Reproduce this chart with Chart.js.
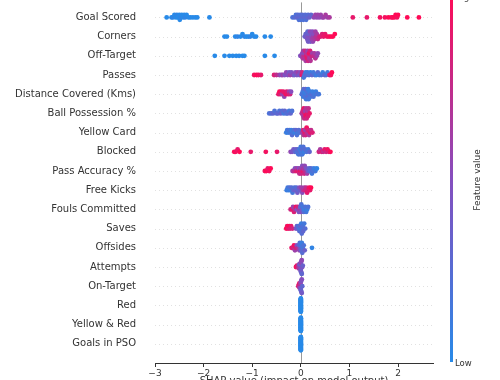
<!DOCTYPE html>
<html><head><meta charset="utf-8">
<script src="https://cdn.jsdelivr.net/npm/chart.js@4"></script>
<style>html,body{margin:0;padding:0;background:#fff;overflow:hidden}</style>
</head><body>
<canvas id="c" width="500" height="380"></canvas>
<script>
// Feature names, top to bottom
const featureNames = ["Goal Scored","Corners","Off-Target","Passes","Distance Covered (Kms)","Ball Possession %","Yellow Card","Blocked","Pass Accuracy %","Free Kicks","Fouls Committed","Saves","Offsides","Attempts","On-Target","Red","Yellow & Red","Goals in PSO"];
// x-axis ticks
const xTicks = [-3,-2,-1,0,1,2];
// [SHAP value, normalised feature value (0 = low, 1 = high)]
const goalScored = [[-2.76,0],[-2.66,0],[-2.63,0.05],[-2.6,0],[-2.57,0],[-2.55,0.05],[-2.53,0],[-2.5,0],[-2.49,0],[-2.47,0.05],[-2.45,0],[-2.42,0],[-2.4,0],[-2.38,0.05],[-2.35,0],[-2.31,0],[-2.27,0],[-2.22,0],[-2.17,0],[-2.13,0],[-1.88,0],
[-0.17,0.2],[-0.13,0.25],[-0.1,0.2],[-0.08,0.3],[-0.06,0.25],[-0.04,0.2],[-0.03,0.3],[-0.01,0.25],[0,0.2],[0.02,0.3],[0.03,0.25],[0.05,0.2],[0.07,0.3],[0.09,0.25],[0.11,0.2],[0.13,0.3],[0.15,0.25],[0.18,0.35],[0.21,0.3],
[0.27,0.55],[0.3,0.6],[0.33,0.55],[0.35,0.6],[0.38,0.55],[0.41,0.6],[0.44,0.55],[0.47,0.6],[0.51,0.65],[0.55,0.6],[0.59,0.65],
[1.07,0.9],[1.36,0.9],[1.63,0.95],[1.73,0.95],[1.8,1],[1.86,1],[1.89,0.95],[1.92,1],[1.95,1],[1.98,0.95],[2.0,1],[2.19,1],[2.43,1]];
const corners = [[-1.57,0],[-1.52,0],[-1.35,0],[-1.3,0.05],[-1.24,0],[-1.2,0],[-1.16,0.05],[-1.12,0],[-1.08,0],[-1.04,0.05],[-1.0,0],[-0.96,0],[-0.92,0],[-0.74,0],[-0.62,0],
[0.08,0.35],[0.1,0.3],[0.11,0.4],[0.12,0.35],[0.13,0.45],[0.14,0.3],[0.15,0.4],[0.16,0.5],[0.17,0.35],[0.18,0.45],[0.19,0.55],[0.2,0.4],[0.21,0.5],[0.22,0.45],[0.23,0.6],[0.24,0.5],[0.25,0.55],[0.26,0.6],[0.27,0.5],[0.28,0.65],[0.3,0.6],[0.31,0.7],[0.33,0.65],[0.35,0.75],[0.38,0.8],[0.41,0.85],[0.44,0.85],[0.47,0.9],[0.5,0.9],[0.54,0.95],[0.58,0.95],[0.62,1],[0.66,1],[0.7,1]];
const offTarget = [[-1.77,0],[-1.57,0],[-1.47,0],[-1.4,0],[-1.33,0],[-1.27,0],[-1.2,0],[-1.16,0],[-0.74,0],[-0.54,0],
[-0.01,0.45],[0.01,0.55],[0.03,0.5],[0.04,0.65],[0.05,0.6],[0.06,0.75],[0.07,0.55],[0.08,0.7],[0.09,0.8],[0.1,0.65],[0.11,0.85],[0.12,0.7],[0.13,0.9],[0.14,0.6],[0.15,0.8],[0.16,0.75],[0.17,0.95],[0.18,0.65],[0.19,0.85],[0.2,0.7],[0.22,0.8],[0.24,0.6],[0.26,0.75],[0.28,0.65],[0.3,0.7],[0.33,0.6],[0.35,0.55]];
const passes = [[-0.96,0.95],[-0.91,1],[-0.87,0.95],[-0.82,0.9],[-0.55,0.85],[-0.5,0.75],
[-0.44,0.6],[-0.4,0.5],[-0.37,0.6],[-0.33,0.45],[-0.3,0.55],[-0.27,0.5],[-0.24,0.4],[-0.22,0.6],[-0.19,0.45],[-0.16,0.55],[-0.13,0.35],[-0.11,0.5],[-0.08,0.45],[-0.06,0.6],[-0.03,0.4],[-0.01,0.5],
[0.02,0.9],[0.03,0.8],[0.06,0.15],[0.08,0.2],[0.1,0.1],[0.12,0.25],[0.14,0.15],[0.17,0.2],[0.2,0.1],[0.23,0.3],[0.26,0.15],[0.29,0.2],[0.32,0.1],[0.35,0.25],[0.38,0.15],[0.42,0.2],[0.45,0.1],[0.49,0.3],[0.52,0.2],[0.55,0.15],[0.59,0.85],[0.62,0.95],[0.64,1]];
const distanceCovered = [[-0.46,0.9],[-0.44,1],[-0.42,0.85],[-0.4,0.95],[-0.38,0.6],[-0.36,0.9],[-0.34,0.55],[-0.31,0.95],[-0.29,0.85],[-0.26,0.9],[-0.24,0.6],[-0.22,0.8],[-0.2,0.5],
[0.02,0.2],[0.04,0.15],[0.05,0.1],[0.06,0.25],[0.07,0.15],[0.08,0.1],[0.09,0.2],[0.1,0.3],[0.11,0.15],[0.12,0.1],[0.13,0.2],[0.14,0.25],[0.15,0.1],[0.16,0.15],[0.17,0.2],[0.18,0.1],[0.2,0.15],[0.22,0.25],[0.24,0.1],[0.26,0.2],[0.28,0.15],[0.31,0.1],[0.34,0.2],[0.37,0.15]];
const ballPossession = [[-0.65,0.2],[-0.61,0.25],[-0.57,0.3],[-0.54,0.2],[-0.5,0.25],[-0.47,0.3],[-0.44,0.2],[-0.41,0.35],[-0.38,0.25],[-0.35,0.15],[-0.33,0.3],[-0.3,0.2],[-0.27,0.25],[-0.24,0.15],[-0.21,0.3],[-0.18,0.2],
[0.02,0.6],[0.03,0.7],[0.04,0.8],[0.05,0.65],[0.06,0.9],[0.07,0.75],[0.08,0.85],[0.09,0.6],[0.1,0.95],[0.11,0.7],[0.12,0.8],[0.13,0.9],[0.14,0.65],[0.15,0.85],[0.16,0.75],[0.18,0.9]];
const yellowCard = [[-0.3,0.1],[-0.28,0.15],[-0.26,0.1],[-0.24,0.2],[-0.22,0.15],[-0.2,0.1],[-0.18,0.25],[-0.16,0.15],[-0.14,0.2],[-0.12,0.1],[-0.1,0.3],[-0.08,0.2],[-0.06,0.15],[-0.04,0.25],[-0.02,0.2],
[0.03,0.6],[0.05,0.85],[0.06,0.7],[0.08,0.9],[0.09,0.6],[0.1,0.8],[0.12,0.95],[0.13,0.7],[0.15,0.85],[0.17,0.65],[0.19,0.9],[0.21,0.75],[0.24,0.85]];
const blocked = [[-1.37,1],[-1.34,0.95],[-1.3,0.9],[-1.26,1],[-1.03,0.9],[-0.72,0.95],[-0.49,0.9],
[-0.21,0.55],[-0.18,0.45],[-0.15,0.4],[-0.12,0.3],[-0.1,0.35],[-0.08,0.2],[-0.06,0.3],[-0.05,0.15],[-0.03,0.25],[-0.02,0.1],[-0.01,0.2],[0,0.15],[0.01,0.1],[0.02,0.25],[0.03,0.15],[0.05,0.2],[0.07,0.1],[0.09,0.25],[0.12,0.2],[0.15,0.15],[0.18,0.3],
[0.37,0.8],[0.4,0.65],[0.43,0.85],[0.46,0.75],[0.49,0.9],[0.52,0.8],[0.55,0.95],[0.58,0.85],[0.61,1]];
const passAccuracy = [[-0.74,0.95],[-0.71,1],[-0.68,0.9],[-0.65,0.95],[-0.62,1],
[-0.17,0.6],[-0.14,0.75],[-0.12,0.5],[-0.1,0.85],[-0.08,0.6],[-0.06,0.9],[-0.04,0.5],[-0.03,0.75],[-0.01,0.95],[0,0.6],[0.01,0.8],[0.03,0.5],[0.04,0.9],[0.05,0.65],[0.07,0.8],[0.08,0.55],[0.1,0.7],[0.11,0.45],[0.13,0.6],[0.15,0.35],[0.17,0.3],[0.19,0.2],[0.21,0.25],[0.23,0.15],[0.25,0.2],[0.27,0.1],[0.3,0.15],[0.33,0.05]];
const freeKicks = [[-0.29,0.1],[-0.27,0.15],[-0.25,0.1],[-0.23,0.2],[-0.21,0.1],[-0.19,0.25],[-0.17,0.15],[-0.15,0.3],[-0.13,0.2],[-0.11,0.35],[-0.09,0.25],[-0.07,0.4],[-0.05,0.3],[-0.03,0.5],[-0.01,0.4],[0.01,0.6],[0.03,0.5],[0.05,0.7],[0.07,0.6],[0.09,0.8],[0.11,0.75],[0.13,0.9],[0.15,0.85],[0.17,0.95],[0.19,0.9],[0.21,1]];
const foulsCommitted = [[-0.21,0.8],[-0.18,0.9],[-0.16,0.6],[-0.14,0.85],[-0.12,0.7],[-0.1,0.95],[-0.08,0.5],[-0.06,0.8],[-0.04,0.4],[-0.03,0.6],[-0.01,0.3],[0,0.5],[0.01,0.2],[0.03,0.35],[0.04,0.15],[0.06,0.25],[0.07,0.1],[0.09,0.2],[0.11,0.15],[0.13,0.1],[0.15,0.2]];
const saves = [[-0.3,1],[-0.28,0.95],[-0.26,0.9],[-0.24,1],[-0.22,0.85],[-0.2,0.9],[-0.17,0.8],
[-0.1,0.45],[-0.08,0.35],[-0.06,0.3],[-0.05,0.2],[-0.03,0.25],[-0.02,0.15],[-0.01,0.3],[0,0.2],[0.01,0.1],[0.02,0.25],[0.03,0.15],[0.04,0.2],[0.05,0.3],[0.07,0.15],[0.09,0.25]];
const offsides = [[-0.19,0.9],[-0.16,0.8],[-0.14,0.95],[-0.12,0.6],[-0.1,0.85],[-0.08,0.5],[-0.06,0.7],[-0.04,0.3],[-0.03,0.55],[-0.02,0.2],[-0.01,0.4],[0,0.15],[0.01,0.3],[0.02,0.1],[0.03,0.25],[0.04,0.15],[0.06,0.2],[0.08,0.35],[0.23,0.05]];
const attempts = [[-0.1,0.95],[-0.08,0.9],[-0.06,0.85],[-0.05,0.7],[-0.04,0.6],[-0.03,0.5],[-0.02,0.65],[-0.02,0.4],[-0.01,0.55],[-0.01,0.3],[0,0.45],[0,0.6],[0,0.35],[0.01,0.5],[0.01,0.4],[0.02,0.55],[0.02,0.3],[0.03,0.45],[0.04,0.35]];
const onTarget = [[-0.05,0.9],[-0.04,0.85],[-0.03,0.7],[-0.03,0.95],[-0.02,0.6],[-0.02,0.8],[-0.01,0.5],[-0.01,0.65],[0,0.4],[0,0.55],[0,0.3],[0.01,0.45],[0.01,0.35],[0.02,0.5],[0.02,0.4],[0.03,0.3]];
const red = [[0,0],[0,0],[0,0],[0,0],[0,0],[0,0],[0,0],[0,0],[0,0],[0,0],[0,0],[0,0],[0,0],[0,0],[0,0],[0,0],[0,0],[0,0],[0,0],[0,0],[0,0],[0,0],[0,0],[0,0],[0,0],[0,0],[0,0],[0,0],[0,0],[0,0]];
const yellowRed = [[0,0],[0,0],[0,0],[0,0],[0,0],[0,0],[0,0],[0,0],[0,0],[0,0],[0,0],[0,0],[0,0],[0,0],[0,0],[0,0],[0,0],[0,0],[0,0],[0,0],[0,0],[0,0],[0,0],[0,0],[0,0],[0,0],[0,0],[0,0],[0,0],[0,0]];
const goalsInPSO = [[0,0],[0,0],[0,0],[0,0],[0,0],[0,0],[0,0],[0,0],[0,0],[0,0],[0,0],[0,0],[0,0],[0,0],[0,0],[0,0],[0,0],[0,0],[0,0],[0,0],[0,0],[0,0],[0,0],[0,0],[0,0],[0,0],[0,0],[0,0],[0,0],[0,0]];

const featureData = [goalScored,corners,offTarget,passes,distanceCovered,ballPossession,yellowCard,blocked,passAccuracy,freeKicks,foulsCommitted,saves,offsides,attempts,onTarget,red,yellowRed,goalsInPSO];
const N = featureNames.length;

const BLUE=[40,138,232], MID=[134,78,190], RED=[255,10,86];
function cmap(t){
  let a,b,f;
  if(t<=0.5){a=BLUE;b=MID;f=t/0.5;}else{a=MID;b=RED;f=(t-0.5)/0.5;}
  const c=a.map((v,i)=>Math.round(v+(b[i]-v)*f));
  return `rgb(${c[0]},${c[1]},${c[2]})`;
}
// beeswarm layout (same idea as shap's summary plot)
function swarm(vals){
  const binW=0.05;
  const xs=vals.map(v=>v[0]);
  const mn=Math.min(...xs);
  const q=xs.map(x=>Math.round((x-mn)/binW));
  const idx=xs.map((_,i)=>i).sort((a,b)=>q[a]-q[b]||a-b);
  let layer=0,last=-1;const ys=xs.map(()=>0);
  for(const i of idx){ if(q[i]!==last) layer=0; ys[i]=Math.ceil(layer/2)*((layer%2)*2-1); layer++; last=q[i]; }
  const maxAbs=Math.max(1,...ys.map(Math.abs));
  const step=Math.min(0.13,0.36/maxAbs);
  return ys.map(y=>y*step);
}
const datasets=featureData.map((arr,i)=>{
  const row=N-1-i, off=swarm(arr);
  return {data:arr.map((p,j)=>({x:p[0],y:row+off[j]})),backgroundColor:arr.map(p=>cmap(p[1])),
    pointRadius:2.4,pointHoverRadius:2.4,borderWidth:0};
});

const decor={
  id:'decor',
  beforeDatasetsDraw(chart){
    const {ctx,chartArea:a,scales:{x,y}}=chart;
    ctx.save();
    ctx.strokeStyle='#cccccc';ctx.lineWidth=0.6;ctx.setLineDash([1,3]);
    for(let r=0;r<N;r++){const py=Math.round(y.getPixelForValue(r))+0.5;ctx.beginPath();ctx.moveTo(a.left,py);ctx.lineTo(a.right,py);ctx.stroke();}
    ctx.setLineDash([]);
    ctx.strokeStyle='#999999';ctx.lineWidth=1;
    const px=Math.round(x.getPixelForValue(0))+0.5;
    ctx.beginPath();ctx.moveTo(px,a.top);ctx.lineTo(px,a.bottom);ctx.stroke();
    ctx.restore();
  },
  afterDraw(chart){
    const {ctx,chartArea:a}=chart;
    ctx.save();
    const cx=450,cw=3,top=-6,bot=a.bottom-1;
    const g=ctx.createLinearGradient(0,top,0,bot);
    g.addColorStop(0,cmap(1));g.addColorStop(0.5,cmap(0.5));g.addColorStop(1,cmap(0));
    ctx.fillStyle=g;ctx.fillRect(cx,top,cw,bot-top);
    ctx.fillStyle='#333';
    ctx.font='8.5px "DejaVu Sans"';ctx.textAlign='left';
    ctx.textBaseline='middle';ctx.fillText('Low',455,364);
    ctx.textBaseline='bottom';ctx.fillText('High',455,2);
    ctx.font='9px "DejaVu Sans"';
    ctx.translate(478,180);ctx.rotate(-Math.PI/2);ctx.textAlign='center';ctx.textBaseline='middle';
    ctx.fillText('Feature value',0,0);
    ctx.setTransform(1,0,0,1,0,0);
    ctx.font='10px "DejaVu Sans"';ctx.textAlign='center';ctx.textBaseline='top';
    ctx.fillText('SHAP value (impact on model output)',(a.left+a.right)/2,376);
    ctx.restore();
  }
};

new Chart(document.getElementById('c'),{
  type:'scatter',
  data:{datasets},
  plugins:[decor],
  options:{
    responsive:false,animation:false,
    layout:{padding:{left:0,right:67,top:0,bottom:0}},
    plugins:{legend:{display:false},tooltip:{enabled:false}},
    scales:{
      x:{min:-3,max:2.72,
        afterBuildTicks(s){s.ticks=xTicks.map(v=>({value:v}));},
        afterFit(s){s.height=17;s.paddingLeft=0;s.paddingRight=0;},
        grid:{drawOnChartArea:false,drawTicks:true,tickLength:4,color:'#333'},
        border:{display:true,color:'#333',width:1},
        ticks:{padding:1,color:'#333',font:{family:'DejaVu Sans',size:9},
          callback:v=>v<0?'\u2212'+Math.abs(v):String(v)}},
      y:{min:-1,max:17.78,
        afterBuildTicks(s){s.ticks=featureNames.map((_,i)=>({value:i}));},
        afterFit(s){s.width=155;s.paddingTop=0;s.paddingBottom=0;},
        grid:{display:false,drawTicks:false},
        border:{display:false},
        ticks:{padding:19,autoSkip:false,color:'#333',font:{family:'DejaVu Sans',size:10},
          callback:v=>featureNames[N-1-v]}}
    }
  }
});
</script>
</body></html>
